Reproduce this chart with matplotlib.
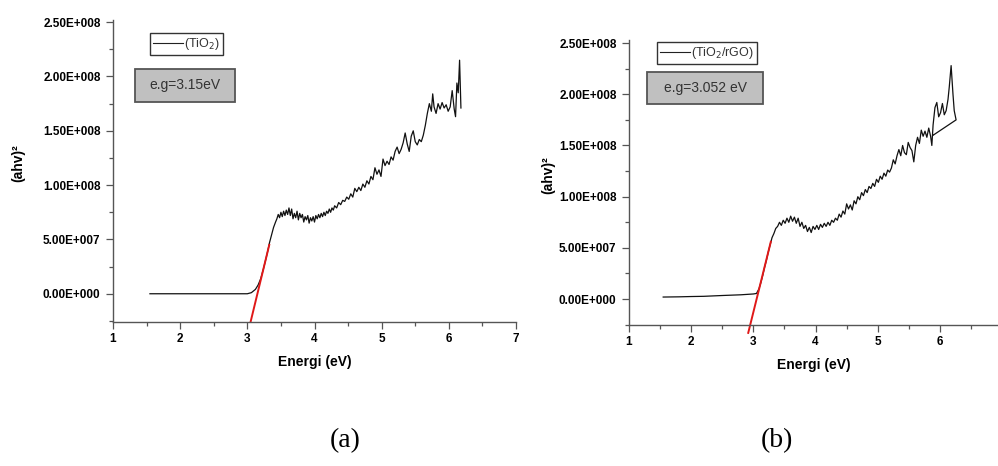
import matplotlib
matplotlib.use('Agg')
import matplotlib.pyplot as plt
from matplotlib.patches import Rectangle
from matplotlib.lines import Line2D
from matplotlib.ticker import MultipleLocator, FuncFormatter

plt.rcParams['font.family'] = ['Liberation Sans', 'DejaVu Sans']

W, H = 998, 466
SCALE = 1e7   # (ahv)^2 values below are in units of 1e7

# --- TiO2 ---
tio2_energy = [1.55, 2.0, 2.5, 2.9, 3.00, 3.06, 3.12, 3.16, 3.20, 3.24, 3.28, 3.31,
               3.33, 3.36, 3.39, 3.42, 3.44, 3.46, 3.48, 3.50, 3.52, 3.54, 3.56,
               3.58, 3.60, 3.62, 3.64, 3.66, 3.68, 3.70, 3.72, 3.74, 3.76, 3.78,
               3.80, 3.82, 3.84, 3.86, 3.88, 3.90, 3.92, 3.94, 3.96, 3.98, 4.00,
               4.02, 4.04, 4.06, 4.08, 4.10, 4.12, 4.14, 4.16, 4.18, 4.20, 4.22,
               4.24, 4.26, 4.28, 4.30, 4.33, 4.36, 4.39, 4.42, 4.45, 4.48, 4.51,
               4.54, 4.57, 4.60, 4.63, 4.66, 4.69, 4.72, 4.75, 4.78, 4.81, 4.84,
               4.87, 4.90, 4.93, 4.96, 4.99, 5.02, 5.05, 5.08, 5.11, 5.14, 5.17,
               5.20, 5.23, 5.26, 5.29, 5.32, 5.35, 5.38, 5.41, 5.44, 5.47, 5.50,
               5.53, 5.56, 5.59, 5.62, 5.65, 5.68, 5.71, 5.74, 5.76, 5.78, 5.81,
               5.84, 5.87, 5.90, 5.93, 5.96, 5.99, 6.02, 6.05, 6.08, 6.10, 6.12,
               6.14, 6.16, 6.18]
tio2_ahv2 = [0.0, 0.0, 0.0, 0.0, 0.0, 0.1, 0.4, 0.8, 1.4, 2.3, 3.3, 4.1,
             4.7, 5.4, 6.1, 6.6, 6.9, 7.3, 7.0, 7.5, 7.1, 7.6, 7.2,
             7.7, 7.3, 7.9, 7.2, 7.8, 6.9, 7.4, 7.0, 7.6, 6.8, 7.4,
             7.0, 7.3, 6.6, 7.1, 6.8, 7.2, 6.5, 7.0, 6.7, 7.1, 6.6,
             7.2, 6.9, 7.3, 7.0, 7.4, 7.1, 7.5, 7.2, 7.6, 7.4, 7.8,
             7.5, 7.9, 7.7, 8.1, 7.9, 8.4, 8.2, 8.6, 8.5, 8.9, 8.7,
             9.2, 8.9, 9.7, 9.4, 9.8, 9.5, 10.1, 9.8, 10.4, 10.1, 10.8,
             10.5, 11.6, 11.0, 11.4, 10.8, 12.4, 11.8, 12.2, 11.9, 12.6, 12.3,
             13.1, 13.5, 12.9, 13.3, 13.9, 14.8, 13.8, 13.1, 14.5, 15.0, 14.0,
             13.7, 14.2, 14.0, 14.6, 15.5, 16.6, 17.5, 16.8, 18.4, 17.2, 16.6,
             17.5, 17.0, 17.6, 17.1, 17.4, 16.8, 17.2, 18.7, 17.0, 16.3, 19.4,
             18.5, 21.5, 17.1]
tio2_gap = 3.15          # eV
tio2_slope = 25.5        # linear fit slope, 1e7 per eV
tio2_fit_range = [-2.6, 4.5]

# --- TiO2/rGO ---
rgo_energy = [1.55, 1.8, 2.0, 2.2, 2.5, 2.8, 3.00, 3.05, 3.09, 3.12, 3.15, 3.18,
              3.21, 3.24, 3.27, 3.30, 3.33, 3.36, 3.39, 3.42, 3.45, 3.48, 3.51,
              3.54, 3.57, 3.60, 3.63, 3.66, 3.69, 3.72, 3.75, 3.78, 3.81, 3.84,
              3.87, 3.90, 3.93, 3.96, 3.99, 4.02, 4.05, 4.08, 4.11, 4.14, 4.17,
              4.20, 4.23, 4.26, 4.29, 4.32, 4.35, 4.38, 4.41, 4.44, 4.47, 4.50,
              4.53, 4.56, 4.59, 4.62, 4.65, 4.68, 4.71, 4.74, 4.77, 4.80, 4.83,
              4.86, 4.89, 4.92, 4.95, 4.98, 5.01, 5.04, 5.07, 5.10, 5.13, 5.16,
              5.19, 5.22, 5.25, 5.28, 5.31, 5.34, 5.37, 5.40, 5.43, 5.46, 5.49,
              5.52, 5.55, 5.58, 5.61, 5.64, 5.67, 5.70, 5.73, 5.76, 5.79, 5.82,
              5.85, 5.87, 5.89, 5.92, 5.95, 5.98, 6.01, 6.04, 6.07, 6.10, 6.13,
              6.15, 6.18, 6.21, 6.23, 6.26, 5.89]
rgo_ahv2 = [0.2, 0.22, 0.25, 0.27, 0.35, 0.42, 0.5, 0.55, 1.0, 1.6, 2.3, 3.1,
            3.8, 4.6, 5.3, 6.0, 6.4, 6.9, 7.1, 7.5, 7.2, 7.7, 7.4,
            7.9, 7.5, 8.1, 7.6, 8.0, 7.4, 7.9, 7.1, 7.5, 6.9, 7.2,
            6.6, 7.0, 6.5, 7.1, 6.8, 7.2, 6.8, 7.3, 7.0, 7.4, 7.1,
            7.5, 7.2, 7.7, 7.5, 7.9, 7.7, 8.3, 8.0, 8.6, 8.3, 9.3,
            8.8, 9.2, 8.7, 9.6, 9.3, 10.0, 9.7, 10.4, 10.1, 10.7, 10.4,
            11.0, 10.8, 11.3, 11.0, 11.7, 11.4, 12.0, 11.7, 12.3, 12.0, 12.6,
            12.4, 12.8, 13.6, 13.2, 14.0, 14.6, 14.0, 15.0, 14.3, 14.1, 15.3,
            14.8, 14.5, 13.4, 15.0, 15.8, 15.2, 16.5, 15.9, 16.4, 15.8, 16.7,
            15.9, 15.0, 17.0, 18.7, 19.2, 17.8, 18.2, 19.1, 18.0, 18.4, 19.5,
            20.7, 22.8, 20.0, 18.4, 17.5, 16.0]
rgo_gap = 3.052
rgo_slope = 24.5
rgo_fit_range = [-3.3, 5.6]


def sci_label(v, pos):
    mant, exp = ('%.2E' % v).split('E')
    return '%sE%+04d' % (mant, int(exp))


def px_box(x0, y0, x1, y1):
    # pixel box (top-left origin) -> figure fraction rect
    return (x0 / W, 1 - y1 / H, (x1 - x0) / W, (y1 - y0) / H)


def tauc_panel(fig, rect, energy, ahv2, gap, slope, fit_range, xmax, ytop, fit_clip):
    ax = fig.add_axes(rect)
    ax.plot(energy, [v * SCALE for v in ahv2], color='#111111', lw=0.9)

    # tangent through the band gap
    fit_x = [gap + y / slope for y in fit_range]
    ax.plot(fit_x, [y * SCALE for y in fit_range], color='#e01818', lw=1.4,
            clip_on=fit_clip)

    ax.set_xlim(1, xmax)
    ax.set_ylim(fit_range[0] * SCALE if fit_clip else -2.53e7, ytop)
    for s in ['top', 'right']:
        ax.spines[s].set_visible(False)
    for s in ['left', 'bottom']:
        ax.spines[s].set_color('#555555')
        ax.spines[s].set_linewidth(1.0)
    ax.xaxis.set_major_locator(MultipleLocator(1))
    ax.xaxis.set_minor_locator(MultipleLocator(0.5))
    ax.yaxis.set_major_locator(MultipleLocator(5e7))
    ax.yaxis.set_minor_locator(MultipleLocator(2.5e7))
    ax.yaxis.set_major_formatter(FuncFormatter(sci_label))
    ax.tick_params(which='both', direction='out', color='#555555', width=0.9)
    ax.tick_params(which='major', length=5, labelsize=8.5)
    ax.tick_params(which='minor', length=3)
    ax.tick_params(axis='y', pad=4)
    ax.tick_params(axis='x', pad=3)
    for lab in ax.get_xticklabels() + ax.get_yticklabels():
        lab.set_fontweight('bold')
    ax.set_xlabel('Energi (eV)', fontsize=10, fontweight='bold', labelpad=7)
    return ax


fig = plt.figure(figsize=(W / 100, H / 100), dpi=100)

ax_a = tauc_panel(fig, px_box(113, 20, 516, 322), tio2_energy, tio2_ahv2,
                  tio2_gap, tio2_slope, tio2_fit_range, 7, 2.52e8, True)
ax_b = tauc_panel(fig, px_box(629, 40, 999, 325), rgo_energy, rgo_ahv2,
                  rgo_gap, rgo_slope, rgo_fit_range, 6.95, 2.53e8, False)

fig.text(18 / W, 1 - 163 / H, '(ahv)²', rotation=90, ha='center', va='center',
         fontsize=10, fontweight='bold')
fig.text(548 / W, 1 - 175 / H, '(ahv)²', rotation=90, ha='center', va='center',
         fontsize=10, fontweight='bold')

# legends
for ax, label, (lx, ly) in [(ax_a, '(TiO$_2$)', (150, 33)),
                            (ax_b, '(TiO$_2$/rGO)', (657, 42))]:
    h = Line2D([], [], color='#222222', lw=0.8)
    leg = ax.legend([h], [label], loc='upper left',
                    bbox_to_anchor=(lx / W, 1 - ly / H),
                    bbox_transform=fig.transFigure, fontsize=9,
                    handlelength=2.4, handletextpad=0.1, borderpad=0.25,
                    borderaxespad=0, fancybox=False, framealpha=1,
                    edgecolor='#333333')
    leg.get_frame().set_linewidth(1.0)
    for t in leg.get_texts():
        t.set_color('#333333')

# band gap boxes
for (x0, y0, x1, y1), txt in [((135, 69, 235, 102), 'e.g=3.15eV'),
                              ((647, 72, 763, 104), 'e.g=3.052 eV')]:
    fig.add_artist(Rectangle((x0 / W, 1 - y1 / H), (x1 - x0) / W, (y1 - y0) / H,
                             transform=fig.transFigure, facecolor='#c0c0c0',
                             edgecolor='#555555', lw=1.3))
    fig.text((x0 + x1) / 2 / W, 1 - (y0 + y1) / 2 / H, txt, ha='center',
             va='center', fontsize=10, color='#333333')

fig.text(345 / W, 1 - 441 / H, '(a)', ha='center', va='center', fontsize=20,
         family='Liberation Serif')
fig.text(777 / W, 1 - 441 / H, '(b)', ha='center', va='center', fontsize=20,
         family='Liberation Serif')

fig.savefig('out.png', dpi=100)
